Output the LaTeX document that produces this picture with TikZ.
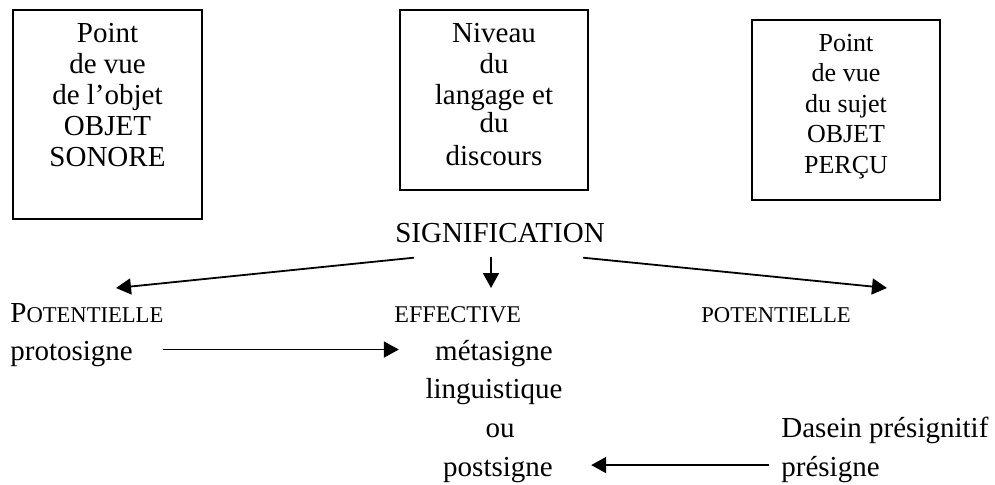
\documentclass[tikz,border=0pt]{standalone}
\usepackage{fontspec}
\setmainfont{Liberation Serif}
\usetikzlibrary{arrows.meta,positioning}

\newcommand{\petit}[1]{{\fontsize{11.3}{13}\selectfont #1}}

\tikzset{
  boite/.style={draw, line width=1pt, inner sep=0pt},
  texte/.style={inner sep=0pt, align=center, anchor=base, font=\fontsize{14.5}{15.5}\selectfont},
  fleche/.style={line width=0.9pt, -{Triangle[length=7.5pt,width=8pt]}},
}

\begin{document}
\begin{tikzpicture}[x=0.5pt, y=-0.5pt]
  \useasboundingbox (0,0) rectangle (995,484);

  % les trois cadres
  \node[boite, minimum width=94.5pt, minimum height=104.5pt] (objet) at (107.5,114.5) {};
  \node[boite, minimum width=94pt, minimum height=90pt] (niveau) at (494,100) {};
  \node[boite, minimum width=94pt, minimum height=90pt] (sujet) at (846,110) {};

  % texte des cadres (ancre sur la derniere ligne)
  \node[texte] (tobjet) at (107.5,166) {Point\\de vue\\de l’objet\\OBJET\\SONORE};
  \node[texte] (tniveau) at (494,165) {Niveau\\du\\langage et\\[-1.5pt]du\\[1pt]discours};
  \node[texte, font=\fontsize{13}{15.2}\selectfont] (tsujet) at (846,173) {Point\\de vue\\du sujet\\OBJET\\PERÇU};

  \node[texte] (signif) at (500,242) {SIGNIFICATION};

  \node[texte, anchor=base west] (potg) at (10,322) {P\petit{OTENTIELLE}};
  \node[texte, anchor=base west] (effect) at (394,322) {{\fontsize{12}{13}\selectfont EFFECTIVE}};
  \node[texte, anchor=base west] (potd) at (701,322) {\petit{POTENTIELLE}};

  \node[texte, anchor=base west] (proto) at (10,360) {protosigne};
  \node[texte] (meta) at (494,360) {métasigne};
  \node[texte] (ling) at (494,398) {linguistique};
  \node[texte] (ou) at (500,437) {ou};
  \node[texte] (post) at (498,476) {postsigne};
  \node[texte, anchor=base west] (dasein) at (781,437) {Dasein présignitif};
  \node[texte, anchor=base west] (pre) at (781,476) {présigne};

  \coordinate (versg) at (116,288);
  \coordinate (versc) at (491,288);
  \coordinate (versd) at (887,288);

  \draw[fleche] ([shift={(19,15)}]signif.south west) -- (versg);
  \draw[fleche] ([shift={(-9,14)}]signif.south) -- (versc);
  \draw[fleche] ([shift={(-22,15)}]signif.south east) -- (versd);
  \draw[fleche] ([shift={(30,-4)}]proto.east) -- ([shift={(-36,-4)}]meta.west |- proto.east);
  \draw[fleche] ([shift={(-12,-4)}]pre.west) -- ([shift={(38,-4)}]post.east |- pre.west);
\end{tikzpicture}
\end{document}
